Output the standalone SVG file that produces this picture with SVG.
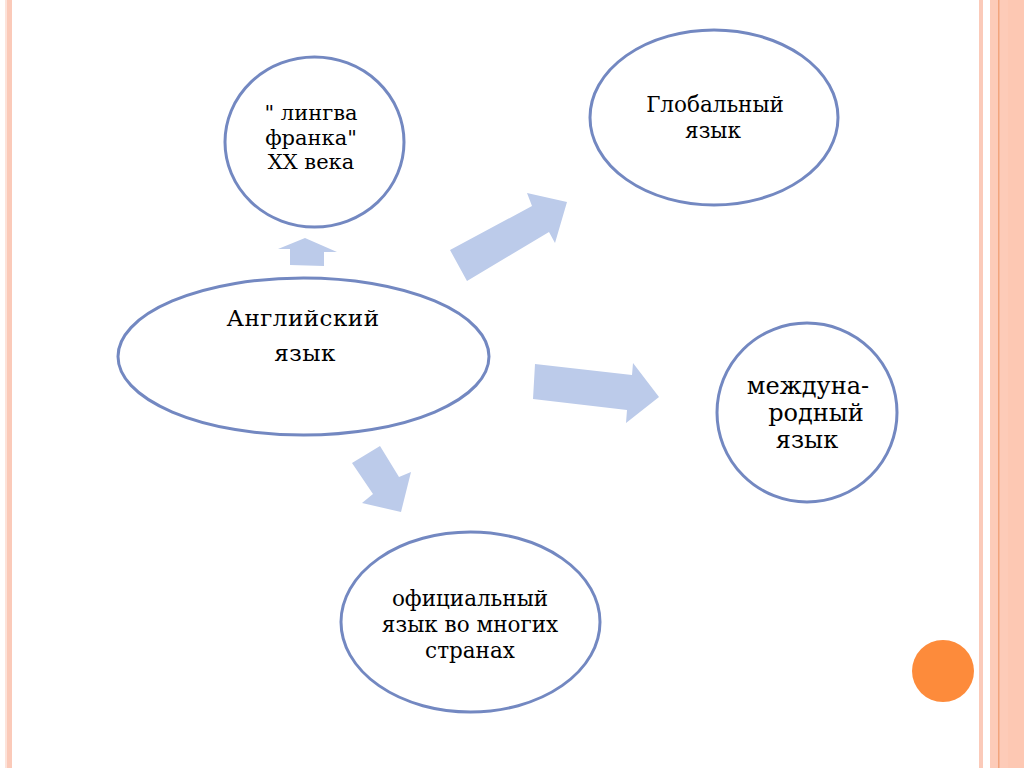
<svg xmlns="http://www.w3.org/2000/svg" width="1024" height="768" viewBox="0 0 1024 768">
<style>
.node{fill:#ffffff;stroke:#7388c1;stroke-width:3}
.arr{fill:#bccbea}
text{fill:#000;text-anchor:middle;font-family:"DejaVu Serif","Liberation Serif",serif}
</style>
<rect x="0" y="0" width="1024" height="768" fill="#ffffff"/>
<g id="border">
<rect x="5" y="0" width="2" height="768" fill="#fde3da"/>
<rect x="7" y="0" width="5" height="768" fill="#fbcab9"/>
<rect x="979" y="0" width="4" height="768" fill="#fbcab9"/>
<rect x="990" y="0" width="34" height="768" fill="#fdcbb8"/>
<rect x="1008" y="0" width="16" height="768" fill="#fdc8b3"/>
<rect x="998" y="0" width="1.5" height="768" fill="#f2a47c"/>
</g>
<circle id="dot" cx="943" cy="671" r="31" fill="#fd8b3b"/>
<g id="connectors">
<polygon class="arr" points="290,265 290,249 278,249 305,238 337,252 324,252 324,266"/>
<polygon class="arr" points="450,250 532,206 527,193 567,202 555,243 549,232 467,281"/>
<polygon class="arr" points="535,364 632,375 633,363 659,397 626,423 627,410 533,399"/>
<polygon class="arr" points="352,463 380,446 399,477 411,472 401,512 362,503 373,494"/>
</g>
<g id="lingua">
<ellipse class="node" cx="314.5" cy="142" rx="89.5" ry="85"/>
<text font-size="21"><tspan x="311" y="120">" лингва</tspan><tspan x="311" y="145">франка"</tspan><tspan x="311" y="169">XX века</tspan></text>
</g>
<g id="global">
<ellipse class="node" cx="714" cy="117.5" rx="124" ry="87.5"/>
<text font-size="21.5"><tspan x="715" y="112">Глобальный</tspan><tspan x="713" y="138">язык</tspan></text>
</g>
<g id="english">
<ellipse class="node" cx="303.5" cy="356.5" rx="185.5" ry="78.5"/>
<text font-size="23" letter-spacing="0.5"><tspan x="303" y="326">Английский</tspan><tspan x="305" y="361">язык</tspan></text>
</g>
<g id="international">
<ellipse class="node" cx="807" cy="412.5" rx="90" ry="89.5"/>
<text font-size="24"><tspan x="808" y="394">междуна-</tspan><tspan x="816" y="421">родный</tspan><tspan x="807" y="448">язык</tspan></text>
</g>
<g id="official">
<ellipse class="node" cx="470.5" cy="622" rx="129.5" ry="90"/>
<text font-size="21.5"><tspan x="470" y="606">официальный</tspan><tspan x="470" y="632">язык во многих</tspan><tspan x="470" y="658">странах</tspan></text>
</g>
</svg>
